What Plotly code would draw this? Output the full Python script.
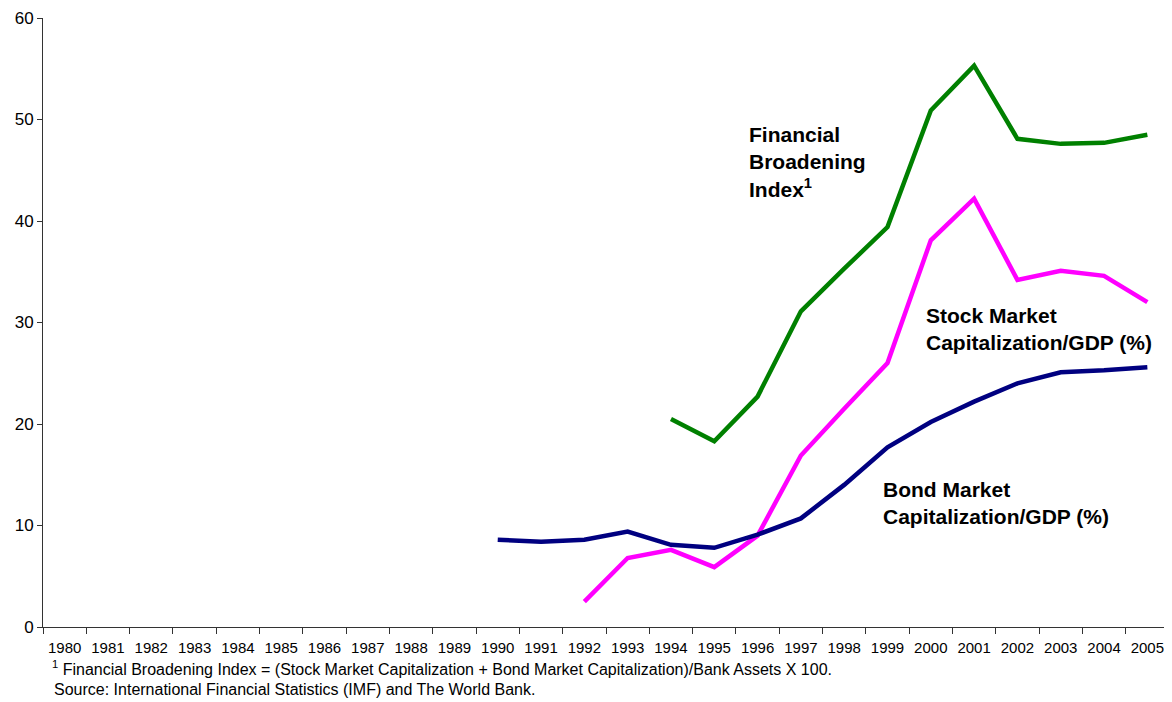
import plotly.graph_objects as go

years = [str(y) for y in range(1980, 2006)]

fbi_years = ["1994", "1995", "1996", "1997", "1998", "1999", "2000", "2001", "2002", "2003", "2004", "2005"]
fbi_vals = [20.5, 18.3, 22.7, 31.1, 35.3, 39.4, 50.9, 55.3, 48.1, 47.6, 47.7, 48.5]

stock_years = ["1992", "1993", "1994", "1995", "1996", "1997", "1998", "1999", "2000", "2001", "2002", "2003", "2004", "2005"]
stock_vals = [2.5, 6.8, 7.6, 5.9, 9.0, 16.9, 21.5, 26.0, 38.1, 42.2, 34.2, 35.1, 34.6, 32.0]

bond_years = ["1990", "1991", "1992", "1993", "1994", "1995", "1996", "1997", "1998", "1999", "2000", "2001", "2002", "2003", "2004", "2005"]
bond_vals = [8.6, 8.4, 8.6, 9.4, 8.1, 7.8, 9.1, 10.7, 14.0, 17.7, 20.2, 22.2, 24.0, 25.1, 25.3, 25.6]

y_ticks = [0, 10, 20, 30, 40, 50, 60]

fig = go.Figure()
fig.add_trace(go.Scatter(x=fbi_years, y=fbi_vals, mode="lines",
                         line=dict(color="#008000", width=4.5), name="Financial Broadening Index"))
fig.add_trace(go.Scatter(x=stock_years, y=stock_vals, mode="lines",
                         line=dict(color="#FF00FF", width=4.5), name="Stock Market Capitalization/GDP (%)"))
fig.add_trace(go.Scatter(x=bond_years, y=bond_vals, mode="lines",
                         line=dict(color="#000080", width=4.5), name="Bond Market Capitalization/GDP (%)"))

font_main = "Liberation Sans, Arial, sans-serif"

# page body has an 8px default margin, so the figure is sized/offset to compensate
fig.update_layout(
    width=1164, height=694,
    margin=dict(l=35, r=3, t=10, b=75, autoexpand=False),
    paper_bgcolor="white", plot_bgcolor="white",
    showlegend=False,
    font=dict(family=font_main, color="black", size=14),
    xaxis=dict(type="category", categoryorder="array", categoryarray=years,
               range=[-0.5, 25.5], showgrid=False, showline=True, linecolor="#333333", linewidth=1,
               ticks="outside", ticklen=6, tickcolor="#333333", tickson="boundaries", tickangle=0,
               ticklabelstandoff=7,
               tickfont=dict(size=15, family=font_main), zeroline=False, automargin=False),
    yaxis=dict(range=[0, 60], tickvals=y_ticks, showgrid=False, showline=True,
               linecolor="#333333", linewidth=1, ticks="outside", ticklen=5, tickcolor="#333333",
               tickfont=dict(size=17, family=font_main), zeroline=False, automargin=False),
)

ann_font = dict(family=font_main, size=21, color="black")
# category index positions: 1980 -> 0
fig.add_annotation(x=15.76, y=45.8, xref="x", yref="y",
                   text="<b>Financial<br>Broadening<br>Index<sup>1</sup></b>",
                   showarrow=False, align="left", xanchor="left", yanchor="middle", font=ann_font)
fig.add_annotation(x=19.84, y=29.4, xref="x", yref="y",
                   text="<b>Stock Market<br>Capitalization/GDP (%)</b>",
                   showarrow=False, align="left", xanchor="left", yanchor="middle", font=ann_font)
fig.add_annotation(x=18.86, y=12.2, xref="x", yref="y",
                   text="<b>Bond Market<br>Capitalization/GDP (%)</b>",
                   showarrow=False, align="left", xanchor="left", yanchor="middle", font=ann_font)

foot_font = dict(family=font_main, size=16, color="black")
fig.add_annotation(x=(50 - 43) / 1126, y=(627 - 668) / 609, xref="paper", yref="paper",
                   text="<sup>1</sup> Financial Broadening Index = (Stock Market Capitalization + Bond Market Capitalization)/Bank Assets X 100.",
                   showarrow=False, xanchor="left", yanchor="middle", font=foot_font)
fig.add_annotation(x=(52 - 43) / 1126, y=(627 - 689) / 609, xref="paper", yref="paper",
                   text="Source: International Financial Statistics (IMF) and The World Bank.",
                   showarrow=False, xanchor="left", yanchor="middle", font=foot_font)

fig.write_html("out.html")
